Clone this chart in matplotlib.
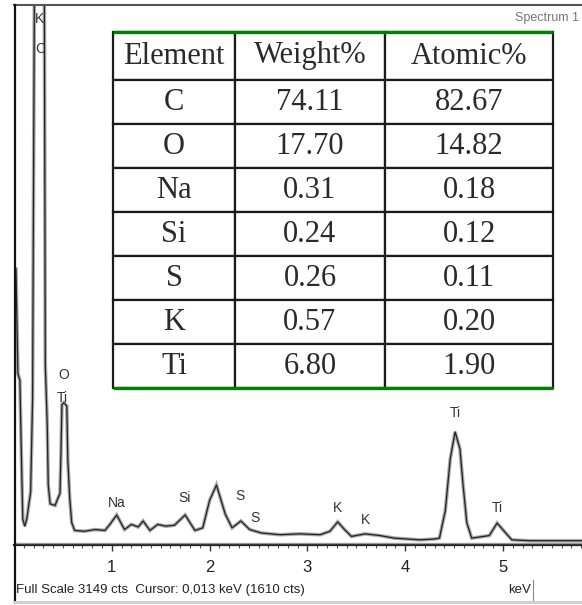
import matplotlib
matplotlib.use("Agg")
import matplotlib.pyplot as plt
from matplotlib.ticker import MultipleLocator

# EDS spectrum, energy in keV and counts (C peak runs off the top of the scale)
energy = [0.01, 0.02, 0.04, 0.06, 0.08, 0.09, 0.11, 0.13, 0.17, 0.19,
          0.21, 0.27, 0.31, 0.32, 0.34, 0.35, 0.37, 0.42, 0.44, 0.47,
          0.48, 0.49, 0.51, 0.54, 0.55, 0.57, 0.59, 0.62, 0.72, 0.83,
          0.93, 0.98, 1.05, 1.13, 1.20, 1.27, 1.32, 1.39, 1.47, 1.55,
          1.64, 1.75, 1.85, 1.93, 2.00, 2.07, 2.16, 2.23, 2.32, 2.41,
          2.53, 2.72, 2.92, 3.13, 3.23, 3.31, 3.38, 3.45, 3.59, 3.74,
          3.89, 4.15, 4.30, 4.35, 4.41, 4.46, 4.51, 4.56, 4.59, 4.63,
          4.68, 4.86, 4.94, 5.02, 5.09, 5.27, 5.69, 5.81]
counts = [1610, 1610, 1000, 960, 400, 150, 110, 150, 310, 850,
          3400, 5200, 3300, 1050, 700, 350, 240, 230, 260, 300,
          530, 820, 830, 810, 500, 270, 130, 85, 80, 90,
          85, 120, 175, 90, 120, 105, 140, 85, 120, 110,
          115, 175, 85, 100, 260, 350, 180, 100, 140, 90,
          70, 60, 65, 60, 80, 135, 90, 50, 65, 55,
          40, 30, 35, 40, 200, 500, 660, 560, 360, 130,
          40, 55, 128, 75, 30, 25, 25, 25]

full_scale = 3149
cursor_kev = "0,013"
cursor_cts = 1610

# peak labels: text, energy, height of label
peak_names = ["K", "C", "O", "Ti", "Na", "Si", "S", "S", "K", "K", "Ti", "Ti"]
peak_kev = [0.264, 0.264, 0.51, 0.49, 1.05, 1.74, 2.31, 2.46, 3.31, 3.59, 4.51, 4.94]
peak_cts = [3070, 2890, 990, 860, 245, 275, 285, 160, 215, 145, 770, 215]

# quantification table
elements = ["C", "O", "Na", "Si", "S", "K", "Ti"]
weight_pct = ["74.11", "17.70", "0.31", "0.24", "0.26", "0.57", "6.80"]
atomic_pct = ["82.67", "14.82", "0.18", "0.12", "0.11", "0.20", "1.90"]
headers = ["Element", "Weight%", "Atomic%"]

W, H = 582, 605
fig = plt.figure(figsize=(W / 100, H / 100), dpi=100)
fig.patch.set_facecolor("white")

narrow = ["Liberation Sans Narrow", "Liberation Sans", "DejaVu Sans"]

ax = fig.add_axes([14 / W, 60 / H, 568 / W, 540 / H])
ax.set_xlim(0, 568 / 97.8)
ax.set_ylim(0, full_scale)
for side in ["right", "bottom", "left"]:
    ax.spines[side].set_visible(False)
ax.spines["top"].set_color("#555555")
ax.spines["top"].set_linewidth(1.5)
ax.set_yticks([])

ax.plot(energy, counts, color="#aaaaaa", lw=2.6, solid_joinstyle="miter")
ax.plot(energy, counts, color="#222222", lw=0.9)

# baseline of the spectrum
ax.axhline(0, color="#222222", lw=1.6, zorder=5, clip_on=False)
ax.axhline(12, color="#999999", lw=1.0, zorder=5)

ax.set_xticks([1, 2, 3, 4, 5])
ax.set_xticklabels(["1", "2", "3", "4", "5"], family=narrow, fontsize=12, color="#222222")
ax.xaxis.set_minor_locator(MultipleLocator(0.1))
ax.tick_params(axis="x", which="major", direction="out", length=4, width=1, color="#333333", pad=7)
ax.tick_params(axis="x", which="minor", direction="out", length=2.5, width=0.8, color="#555555")

for name, e, c in zip(peak_names, peak_kev, peak_cts):
    ax.text(e, c, name, ha="center", va="center", family=narrow, fontsize=10, color="#333333")

ax.text(0.995, 0.975, "Spectrum 1", transform=ax.transAxes, ha="right", va="center",
        family=narrow, fontsize=9, color="#777777")

# table with the element composition
cell_text = [[el, w, a] for el, w, a in zip(elements, weight_pct, atomic_pct)]
tbl = ax.table(cellText=cell_text, colLabels=headers, cellLoc="center",
               bbox=[99 / 568, 157 / 540, 440 / 568, 356 / 540])
tbl.auto_set_font_size(False)
col_w = [122, 150, 168]
for (r, c), cell in tbl.get_celld().items():
    cell.set_width(col_w[c])
    cell.set_height(48 if r == 0 else 44)
    cell.set_edgecolor("#1a1a1a")
    cell.set_linewidth(1.6)
    cell.set_facecolor("white")
    cell.get_text().set_fontfamily("Liberation Serif")
    cell.get_text().set_fontsize(22)
    cell.get_text().set_color("#2a2a2a")
tbl.set_zorder(6)

# green rules above and below the table
x0, x1 = 99 / 568, 539 / 568
ax.plot([x0, x1], [513 / 540, 513 / 540], transform=ax.transAxes, color="#008000", lw=2.4,
        zorder=7, clip_on=False, solid_capstyle="butt")
ax.plot([x0, x1], [157 / 540, 157 / 540], transform=ax.transAxes, color="#008000", lw=2.4,
        zorder=7, clip_on=False, solid_capstyle="butt")

# frame and status line under the plot
fig.add_artist(plt.Line2D([14.5 / W, 14.5 / W], [5 / H, 600 / H], color="#111111", lw=1.6))
fig.add_artist(plt.Line2D([14 / W, 1], [3 / H, 3 / H], color="#d0d0d0", lw=2.2))
fig.add_artist(plt.Line2D([533 / W, 533 / W], [5 / H, 25 / H], color="#888888", lw=0.8))
fig.text(16 / W, 1 - 590 / H, f"Full Scale {full_scale} cts  Cursor: {cursor_kev} keV ({cursor_cts} cts)",
         ha="left", va="center", family=narrow, fontsize=9.5, color="#222222")
fig.text(531 / W, 1 - 590 / H, "keV", ha="right", va="center", family=narrow, fontsize=9.5,
         color="#222222")

fig.savefig("out.png", dpi=100)
